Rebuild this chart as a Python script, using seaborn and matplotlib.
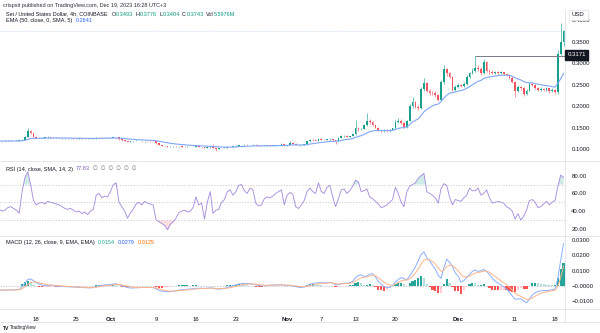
import numpy as np
import pandas as pd
import matplotlib
matplotlib.use("Agg")
import matplotlib.pyplot as plt
import matplotlib.dates as mdates
from matplotlib.lines import Line2D
import seaborn as sns

# ---------------- data (12h samples) ----------------
start = "2023-09-11 12:00"
first_open = 0.1190
closes = [
    0.1185, 0.1180, 0.1192, 0.1186, 0.1190, 0.1182, 0.1195, 0.1205, 0.1212, 0.1280,
    0.1410, 0.1365, 0.1290, 0.1262, 0.1255, 0.1262, 0.1270, 0.1282, 0.1265, 0.1258,
    0.1262, 0.1255, 0.1248, 0.1252, 0.1245, 0.1250, 0.1242, 0.1238, 0.1245, 0.1240,
    0.1235, 0.1240, 0.1238, 0.1245, 0.1262, 0.1258, 0.1255, 0.1262, 0.1258, 0.1265,
    0.1272, 0.1268, 0.1225, 0.1205, 0.1195, 0.1172, 0.1178, 0.1182, 0.1188, 0.1185,
    0.1180, 0.1185, 0.1182, 0.1178, 0.1175, 0.1135, 0.1095, 0.1072, 0.1060, 0.1045,
    0.1050, 0.1055, 0.1052, 0.1058, 0.1055, 0.1050, 0.1052, 0.1048, 0.1050, 0.1060,
    0.1045, 0.1040, 0.1025, 0.1035, 0.1050, 0.1020, 0.1010, 0.1018, 0.1025, 0.1030,
    0.1040, 0.1050, 0.1062, 0.1075, 0.1085, 0.1092, 0.1098, 0.1090, 0.1095, 0.1100,
    0.1085, 0.1075, 0.1072, 0.1078, 0.1082, 0.1080, 0.1085, 0.1088, 0.1092, 0.1110,
    0.1080, 0.1095, 0.1150, 0.1120, 0.1090, 0.1085, 0.1090, 0.1105, 0.1175, 0.1210,
    0.1200, 0.1195, 0.1235, 0.1220, 0.1215, 0.1228, 0.1235, 0.1205, 0.1180, 0.1260,
    0.1300, 0.1310, 0.1290, 0.1300, 0.1340, 0.1480, 0.1460, 0.1470, 0.1550, 0.1650,
    0.1620, 0.1560, 0.1500, 0.1430, 0.1420, 0.1440, 0.1410, 0.1450, 0.1480, 0.1620,
    0.1660, 0.1600, 0.1510, 0.1650, 0.2000, 0.2100, 0.1980, 0.1950, 0.2400, 0.2530,
    0.2360, 0.2310, 0.2300, 0.2260, 0.2150, 0.2550, 0.2850, 0.2760, 0.2680, 0.2380,
    0.2450, 0.2500, 0.2470, 0.2520, 0.2680, 0.2760, 0.2820, 0.2880, 0.2860, 0.2760,
    0.3020, 0.2820, 0.2790, 0.2770, 0.2790, 0.2760, 0.2780, 0.2740, 0.2720, 0.2660,
    0.2560, 0.2340, 0.2440, 0.2420, 0.2280, 0.2360, 0.2520, 0.2500, 0.2420, 0.2380,
    0.2400, 0.2380, 0.2410, 0.2360, 0.2380, 0.2320, 0.3220, 0.3493, 0.3743,
]
highs = [
    0.1200, 0.1195, 0.1200, 0.1198, 0.1200, 0.1195, 0.1205, 0.1215, 0.1225, 0.1300,
    0.1490, 0.1440, 0.1380, 0.1300, 0.1275, 0.1275, 0.1285, 0.1300, 0.1290, 0.1275,
    0.1272, 0.1270, 0.1262, 0.1262, 0.1258, 0.1260, 0.1255, 0.1250, 0.1255, 0.1252,
    0.1250, 0.1250, 0.1248, 0.1255, 0.1285, 0.1272, 0.1268, 0.1280, 0.1270, 0.1278,
    0.1290, 0.1285, 0.1275, 0.1235, 0.1215, 0.1200, 0.1188, 0.1190, 0.1198, 0.1195,
    0.1195, 0.1195, 0.1192, 0.1190, 0.1188, 0.1180, 0.1140, 0.1100, 0.1080, 0.1068,
    0.1060, 0.1065, 0.1062, 0.1068, 0.1065, 0.1062, 0.1060, 0.1058, 0.1058, 0.1072,
    0.1065, 0.1052, 0.1045, 0.1040, 0.1060, 0.1110, 0.1028, 0.1025, 0.1032, 0.1038,
    0.1048, 0.1058, 0.1070, 0.1082, 0.1092, 0.1100, 0.1110, 0.1105, 0.1102, 0.1110,
    0.1105, 0.1090, 0.1082, 0.1085, 0.1090, 0.1088, 0.1092, 0.1095, 0.1100, 0.1130,
    0.1118, 0.1102, 0.1190, 0.1160, 0.1128, 0.1098, 0.1098, 0.1115, 0.1190, 0.1225,
    0.1225, 0.1212, 0.1250, 0.1245, 0.1230, 0.1240, 0.1250, 0.1242, 0.1215, 0.1272,
    0.1315, 0.1325, 0.1318, 0.1312, 0.1360, 0.1675, 0.1520, 0.1500, 0.1580, 0.1830,
    0.1700, 0.1640, 0.1580, 0.1520, 0.1450, 0.1465, 0.1455, 0.1470, 0.1500, 0.1680,
    0.1720, 0.1700, 0.1620, 0.1670, 0.2050, 0.2200, 0.2120, 0.2020, 0.2450, 0.2640,
    0.2560, 0.2400, 0.2360, 0.2340, 0.2290, 0.2600, 0.2960, 0.2880, 0.2800, 0.2700,
    0.2480, 0.2540, 0.2520, 0.2560, 0.2720, 0.2800, 0.2880, 0.3171, 0.2950, 0.2900,
    0.3090, 0.3040, 0.2860, 0.2830, 0.2820, 0.2810, 0.2810, 0.2800, 0.2760, 0.2740,
    0.2700, 0.2580, 0.2480, 0.2470, 0.2440, 0.2390, 0.2560, 0.2560, 0.2520, 0.2440,
    0.2440, 0.2430, 0.2440, 0.2430, 0.2420, 0.2400, 0.3300, 0.3920, 0.3776,
]
lows = [
    0.1175, 0.1170, 0.1175, 0.1178, 0.1180, 0.1175, 0.1178, 0.1190, 0.1200, 0.1205,
    0.1270, 0.1350, 0.1280, 0.1250, 0.1245, 0.1248, 0.1255, 0.1262, 0.1255, 0.1248,
    0.1250, 0.1248, 0.1240, 0.1240, 0.1238, 0.1238, 0.1235, 0.1230, 0.1232, 0.1232,
    0.1225, 0.1228, 0.1230, 0.1232, 0.1240, 0.1248, 0.1245, 0.1248, 0.1250, 0.1250,
    0.1255, 0.1255, 0.1215, 0.1195, 0.1185, 0.1165, 0.1165, 0.1170, 0.1175, 0.1175,
    0.1170, 0.1172, 0.1172, 0.1168, 0.1165, 0.1125, 0.1085, 0.1062, 0.1050, 0.1035,
    0.1038, 0.1042, 0.1045, 0.1045, 0.1048, 0.1042, 0.1042, 0.1040, 0.1040, 0.1045,
    0.1040, 0.1032, 0.1018, 0.1020, 0.1030, 0.1015, 0.0955, 0.1002, 0.1012, 0.1020,
    0.1025, 0.1035, 0.1045, 0.1055, 0.1068, 0.1078, 0.1085, 0.1082, 0.1085, 0.1090,
    0.1078, 0.1068, 0.1065, 0.1068, 0.1072, 0.1072, 0.1075, 0.1078, 0.1082, 0.1088,
    0.1072, 0.1075, 0.1090, 0.1110, 0.1082, 0.1075, 0.1078, 0.1082, 0.1098, 0.1165,
    0.1190, 0.1185, 0.1188, 0.1210, 0.1205, 0.1208, 0.1218, 0.1195, 0.1110, 0.1172,
    0.1250, 0.1285, 0.1280, 0.1282, 0.1292, 0.1335, 0.1430, 0.1440, 0.1455, 0.1530,
    0.1590, 0.1540, 0.1480, 0.1410, 0.1395, 0.1405, 0.1390, 0.1400, 0.1440, 0.1470,
    0.1600, 0.1580, 0.1490, 0.1500, 0.1640, 0.1960, 0.1950, 0.1910, 0.1940, 0.2360,
    0.2320, 0.2260, 0.2250, 0.2220, 0.2110, 0.2130, 0.2520, 0.2700, 0.2640, 0.2340,
    0.2350, 0.2420, 0.2440, 0.2450, 0.2500, 0.2650, 0.2740, 0.2800, 0.2820, 0.2720,
    0.2740, 0.2790, 0.2750, 0.2740, 0.2750, 0.2730, 0.2740, 0.2710, 0.2690, 0.2620,
    0.2530, 0.2200, 0.2320, 0.2380, 0.2230, 0.2250, 0.2340, 0.2460, 0.2390, 0.2340,
    0.2350, 0.2340, 0.2360, 0.2300, 0.2330, 0.2280, 0.2290, 0.3180, 0.3404,
]
rsi = [
    42, 40, 41, 44, 45, 43, 41, 37.5, 62, 78,
    84.5, 70, 52, 47, 49, 50, 48, 51, 50, 49,
    48, 47, 45, 43, 42, 43, 41, 39, 40, 37,
    39, 36, 40, 42, 58, 60, 55, 57, 56, 62,
    70, 72, 50, 45, 40, 32, 38, 42, 48, 50,
    47, 51, 49, 48, 47, 30, 28, 26, 24, 19,
    25, 28, 32, 38, 40, 41, 39, 40, 44, 56,
    47, 49, 31, 50, 62, 37.5, 41, 42, 50, 53,
    62, 64, 58, 62, 69, 70, 63, 60, 66, 64,
    49, 46, 47, 54, 56, 55, 57, 60, 62, 64,
    47, 58, 61, 59, 45, 43, 47, 52, 62, 66,
    62, 60, 72, 62, 60, 67, 69, 56, 45, 54,
    64, 65, 60, 63, 68, 75, 73, 62, 63, 65,
    56, 54, 51, 48, 44, 45, 47, 50, 53, 67,
    60, 50, 45, 62, 68, 70, 72, 77, 80, 82.7,
    62, 60, 58, 55, 49, 65, 71, 69, 56, 47,
    53, 52, 51, 55, 58, 66, 63, 63, 66, 58,
    60, 64, 55, 49, 50, 51, 50, 49, 45, 43,
    40, 31, 37, 30, 34, 41, 52, 53, 50, 44,
    45, 48, 51, 47, 50, 52, 68, 80.8, 77.83,
]
macd = [
    -0.0025, -0.0027, -0.0028, -0.0026, -0.0025, -0.0026, -0.0025, -0.0022, -0.0005, 0.0020,
    0.0042, 0.0046, 0.0035, 0.0022, 0.0012, 0.0006, 0.0003, 0.0002, 0.0003, 0.0002,
    0.0000, -0.0002, -0.0003, -0.0004, -0.0005, -0.0006, -0.0007, -0.0008, -0.0009, -0.0010,
    -0.0011, -0.0012, -0.0012, -0.0010, -0.0004, 0.0002, 0.0005, 0.0007, 0.0008, 0.0010,
    0.0013, 0.0014, 0.0008, 0.0002, -0.0004, -0.0010, -0.0013, -0.0013, -0.0012, -0.0011,
    -0.0010, -0.0009, -0.0009, -0.0010, -0.0011, -0.0018, -0.0028, -0.0034, -0.0037, -0.0038,
    -0.0037, -0.0034, -0.0030, -0.0027, -0.0025, -0.0023, -0.0021, -0.0020, -0.0018, -0.0015,
    -0.0015, -0.0014, -0.0016, -0.0014, -0.0012, -0.0014, -0.0019, -0.0020, -0.0019, -0.0015,
    -0.0010, -0.0004, 0.0002, 0.0008, 0.0013, 0.0016, 0.0017, 0.0016, 0.0015, 0.0013,
    0.0008, 0.0004, 0.0000, 0.0002, 0.0004, 0.0005, 0.0006, 0.0007, 0.0008, 0.0009,
    0.0005, 0.0004, 0.0003, 0.0000, -0.0004, -0.0008, -0.0010, -0.0006, 0.0002, 0.0012,
    0.0018, 0.0019, 0.0021, 0.0021, 0.0020, 0.0022, 0.0024, 0.0018, 0.0007, 0.0008,
    0.0015, 0.0018, 0.0018, 0.0022, 0.0030, 0.0055, 0.0068, 0.0073, 0.0062, 0.0065,
    0.0078, 0.0080, 0.0060, 0.0030, 0.0012, -0.0004, -0.0010, -0.0008, 0.0005, 0.0025,
    0.0042, 0.0055, 0.0048, 0.0040, 0.0065, 0.0095, 0.0125, 0.0165, 0.0205, 0.0224,
    0.0185, 0.0165, 0.0135, 0.0110, 0.0070, 0.0050, 0.0120, 0.0175, 0.0155, 0.0128,
    0.0085, 0.0065, 0.0025, 0.0035, 0.0055, 0.0075, 0.0095, 0.0105, 0.0095, 0.0100,
    0.0108, 0.0095, 0.0076, 0.0050, 0.0033, 0.0018, 0.0007, -0.0005, -0.0020, -0.0040,
    -0.0065, -0.0087, -0.0085, -0.0083, -0.0098, -0.0110, -0.0085, -0.0060, -0.0045, -0.0035,
    -0.0032, -0.0030, -0.0029, -0.0027, -0.0024, -0.0020, 0.0050, 0.0170, 0.0279,
]

tick_dates = ["2023-09-18", "2023-09-25", "2023-10-01", "2023-10-09", "2023-10-16",
              "2023-10-23", "2023-11-01", "2023-11-07", "2023-11-13", "2023-11-20",
              "2023-12-01", "2023-12-11", "2023-12-18"]
tick_labels = ["18", "25", "Oct", "9", "16", "23", "Nov", "7", "13", "20", "Dec", "11", "18"]
price_ticks = [0.10, 0.15, 0.20, 0.25, 0.30, 0.35, 0.40]
rsi_ticks = [20, 40, 60, 80]
macd_ticks = [-0.01, 0.0, 0.01, 0.02, 0.03]
macd_tick_labels = ["\u22120.0100", "\u22120.0000", "0.0100", "0.0200", "0.0300"]
resistance = 0.3171
resistance_from = 167
ema_length = 50

publish_text = "crispsit published on TradingView.com, Dec 19, 2023 16:28 UTC+3"
symbol_text = "Sei / United States Dollar, 4h, COINBASE"
ohlc_labels = ["O", "H", "L", "C", "Vol"]
ohlc_values = ["0.3493", "0.3776", "0.3404", "0.3743", "5.5976M"]
ema_text, ema_value = "EMA (50, close, 0, SMA, 5)", "0.2641"
rsi_text, rsi_value = "RSI (14, close, SMA, 14, 2)", "77.83"
macd_text = "MACD (12, 26, close, 9, EMA, EMA)"
macd_values = ["0.0154", "0.0279", "0.0125"]

# ---------------- styling ----------------
sns.set_theme(style="white")
plt.rcParams["font.family"] = ["Liberation Sans", "DejaVu Sans"]
UP, DOWN = "#14a08c", "#f2535f"
TXT = "#131722"
SEP = "#e0e3eb"
FS_AX = 4.3
FS_HD = 4.0

dates = pd.date_range(start, periods=len(closes), freq="12h")
xs = mdates.date2num(dates.to_pydatetime())
df = pd.DataFrame({"x": xs, "close": closes, "high": highs, "low": lows,
                   "rsi": rsi, "macd": macd})
df["open"] = [first_open] + closes[:-1]
df["ema"] = df["close"].ewm(span=ema_length * 4 / 12, adjust=False).mean()
df["signal"] = df["macd"].ewm(span=5, adjust=False).mean()
df["hist"] = df["macd"] - df["signal"]

W, H = 600, 333
fig = plt.figure(figsize=(W / 100, H / 100), dpi=100)
fig.patch.set_facecolor("white")
plot_w = 565 / W


def add_ax(top_px, bot_px):
    ax = fig.add_axes([0, (H - bot_px) / H, plot_w, (bot_px - top_px) / H])
    for s in ax.spines.values():
        s.set_visible(False)
    ax.set_facecolor("white")
    ax.grid(False)
    return ax


ax_p = add_ax(10, 161)
ax_r = add_ax(161, 236)
ax_m = add_ax(236, 309)

x_right = mdates.date2num(pd.Timestamp("2023-12-19 18:00").to_pydatetime())
x_left = x_right - 565 / 5.7

# ---- price candles ----
o = df["open"].values
c = df["close"].values
up = c >= o
cols = np.where(up, UP, DOWN)
ax_p.vlines(df["x"], df["low"], df["high"], colors=cols, linewidth=0.5, alpha=0.85, zorder=2)
body_lo = np.minimum(o, c)
body_h = np.maximum(np.abs(c - o), 0.0004)
ax_p.bar(df["x"], body_h, bottom=body_lo, width=0.3, color=cols, linewidth=0, zorder=3)
sns.lineplot(data=df, x="x", y="ema", ax=ax_p, color="#7ea6f8", linewidth=0.8, zorder=4)
ax_p.hlines(resistance, df["x"].iloc[resistance_from], x_right, color="#787b86",
            linewidth=0.7, zorder=5)
ax_p.axhline(closes[-1], color="#8fb0f0", linewidth=0.5, linestyle=(0, (1, 1.5)), alpha=0.7, zorder=1)
ax_p.set_ylim(0.1 - 12 * 0.002326, 0.1 + 139 * 0.002326)
ax_p.set_yticks(price_ticks)
ax_p.set_yticklabels([f"{v:.4f}" for v in price_ticks])

# ---- RSI ----
r = df["rsi"].values
ax_r.fill_between(df["x"], r, 70, where=r > 70, interpolate=True, color="#26a69a", alpha=0.22, linewidth=0)
ax_r.fill_between(df["x"], r, 30, where=r < 30, interpolate=True, color="#f23645", alpha=0.16, linewidth=0)
for lvl in (70, 50, 30):
    ax_r.axhline(lvl, color="#b2b5be", linewidth=0.5, linestyle=(0, (1.5, 2.5)))
sns.lineplot(data=df, x="x", y="rsi", ax=ax_r, color="#a78ee0", linewidth=0.65)
ax_r.set_ylim(80 - (236 - 175.7) / 0.885, 80 + (175.7 - 161) / 0.885)
ax_r.set_yticks(rsi_ticks)
ax_r.set_yticklabels([f"{v:.2f}" for v in rsi_ticks])

# ---- MACD ----
hv = df["hist"].values
prev = np.concatenate([[hv[0]], hv[:-1]])
hcols = np.where(hv >= 0, np.where(hv >= prev, "#26a69a", "#b2dfdb"),
                 np.where(hv < prev, "#ff5252", "#ffcdd2"))
ax_m.bar(df["x"], hv, width=0.38, color=hcols, linewidth=0, zorder=2)
ax_m.axhline(0, color="#b2b5be", linewidth=0.5, linestyle=(0, (2, 2)), zorder=1)
sns.lineplot(data=df, x="x", y="macd", ax=ax_m, color="#8aaeff", linewidth=0.7, zorder=3)
sns.lineplot(data=df, x="x", y="signal", ax=ax_m, color="#ffb48a", linewidth=0.7, zorder=3)
ax_m.set_ylim((286 - 309) / 1530, (286 - 236) / 1530)
ax_m.set_yticks(macd_ticks)
ax_m.set_yticklabels(macd_tick_labels)

for ax in (ax_p, ax_r, ax_m):
    ax.set_xlim(x_left, x_right)
    ax.set_xlabel("")
    ax.set_ylabel("")
    ax.yaxis.tick_right()
    ax.tick_params(axis="y", length=0, pad=4.5, labelsize=FS_AX, colors=TXT)
    ax.tick_params(axis="x", bottom=False, labelbottom=False)
    ax.grid(False)

ax_m.set_xticks(mdates.date2num(pd.to_datetime(tick_dates).to_pydatetime()))
ax_m.set_xticklabels(tick_labels)
ax_m.tick_params(axis="x", bottom=False, labelbottom=True, length=0, pad=5.5,
                 labelsize=FS_AX, colors=TXT)
for lab in ax_m.get_xticklabels():
    if not lab.get_text().isdigit():
        lab.set_fontweight("bold")

# ---- separators ----
def hline_px(y, x0=0, x1=W):
    fig.add_artist(Line2D([x0 / W, x1 / W], [1 - y / H, 1 - y / H], color=SEP, linewidth=0.6))

hline_px(161)
hline_px(236)
hline_px(309)
hline_px(322)
fig.add_artist(Line2D([565 / W, 565 / W], [1 - 322 / H, 1 - 10 / H], color=SEP, linewidth=0.6))

# ---- axis badges ----
fig.text(567.5 / W, 1 - 55 / H, "0.3171", fontsize=FS_AX, color="white", va="center", ha="left",
         bbox=dict(boxstyle="square,pad=0.35", fc=TXT, ec=TXT))
fig.text(572 / W, 1 - 15 / H, "USD", fontsize=FS_AX, color=TXT, va="center", ha="left",
         bbox=dict(boxstyle="square,pad=0.5", fc="white", ec=SEP, lw=0.5))

# ---- headers ----
renderer = fig.canvas.get_renderer()


def rich(x_px, y_px, parts, size=FS_HD):
    cur = x_px
    for s, color, gap in parts:
        t = fig.text(cur / W, 1 - y_px / H, s, fontsize=size, color=color, va="center", ha="left")
        cur += t.get_window_extent(renderer=renderer).width + gap


fig.text(3 / W, 1 - 5 / H, publish_text, fontsize=FS_HD, color="#2a2e39", va="center", ha="left")
parts = [(symbol_text, TXT, 4)]
for lab, val in zip(ohlc_labels, ohlc_values):
    parts.append((lab, TXT, 0.3))
    parts.append((val, "#089981", 2.2))
rich(6, 14, parts)
rich(6, 20.5, [(ema_text, TXT, 3), (ema_value, "#2962ff", 0)])
rich(6, 169, [(rsi_text, TXT, 3), (rsi_value, "#7e57c2", 3),
              ("\u2205  \u2205  \u2205  \u2205  \u2205  \u2205", "#787b86", 0)])
rich(6, 242.5, [(macd_text, TXT, 3), (macd_values[0], "#22ab94", 3),
                (macd_values[1], "#2962ff", 3), (macd_values[2], "#ff6d00", 0)])
fig.text(3 / W, 1 - 328 / H, "TV", fontsize=3.6, color=TXT, fontweight="bold", va="center", ha="left")
fig.text(10 / W, 1 - 328 / H, "TradingView", fontsize=3.4, color=TXT, va="center", ha="left")

fig.savefig("out.png", dpi=100, facecolor="white")
